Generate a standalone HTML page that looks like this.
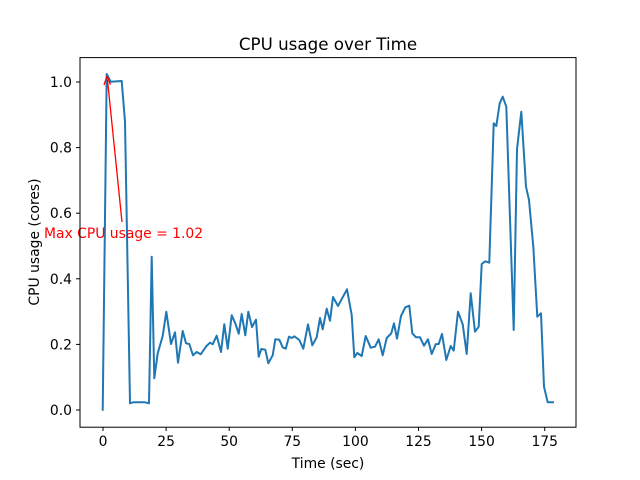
<!DOCTYPE html>
<html><head><meta charset="utf-8"><style>
html,body{margin:0;padding:0;background:#fff;}
svg{display:block;font-family:"DejaVu Sans","Liberation Sans",sans-serif;}
</style></head><body>
<svg width="640" height="480" viewBox="0 0 640 480" xmlns="http://www.w3.org/2000/svg">
<rect width="640" height="480" fill="#fff"/>
<polyline fill="none" stroke="#1f77b4" stroke-width="2" stroke-linejoin="round" points="
102.7,410.7 106.7,74 110.7,81.7 121.7,81 125,121.7 130,403.3 133.3,402.3 145,402.3 149,403.3 151.7,256.7 154.3,378.3 157.7,353.3 162.7,336 166.3,311.7 171,344 175,332.3 178,362.7 182.7,331 186,343.3 189.3,344 193,355.3 196.7,352 200.7,354.3 206.7,345.7 210,342.7 212.7,344.3 216.7,335.7 221,352 224.3,324.3 227.7,348.7 231.7,315.3 235.3,323.3 238.7,333.7 241.7,314 245.3,335.3 248.3,311.7 252,327 256,319.7 258.7,356.7 261.3,349 265.3,349.7 268.3,363.3 272.7,355.3 275.3,339.3 279.3,339.7 282.7,347.3 285.7,348.7 289,336.7 291.7,338 294.3,336.3 299.3,340 303.3,348.7 308,324.3 312.3,345.3 316.7,337.3 320,318 322.7,329.3 326.7,308.7 330,320.7 333,297 338,306 347,289.3 351.7,315 354.3,357.3 357.3,353 361.7,356 365.7,336 370.7,347.7 375,346.7 378.7,339.3 382.7,355.3 386.7,338 391.3,333.3 394,323.3 397,338.7 401,316 405.3,307.3 409.3,305.7 412.3,333.3 416,337.3 420,337.3 424,345.7 428,339.3 431.7,354 435.7,344.3 438.7,344 442,334 446.3,360 450.7,346 453.7,350.7 458,311.7 462.7,324.3 466.7,354 470.7,293.3 475,331.7 478.7,326.7 481.7,264 485.3,261.3 489.3,262.7 493.7,123.3 496.3,126 499.7,103.3 502.7,96.7 506.3,106.7 513.7,330 517,149.3 521.3,111.7 526,186.7 529,200 533.3,246.7 537.3,316.7 541,313.3 544,386.7 547.7,402.3 554,402.3"/>
<line x1="122" y1="222" x2="107.5" y2="80" stroke="red" stroke-width="1.3"/>
<path d="M107,76 L104,85 M107,76 L110.5,84.5" stroke="red" stroke-width="1.3" fill="none"/>
<text x="44" y="238" font-size="13.9" fill="red">Max CPU usage = 1.02</text>
<rect x="80" y="57.6" width="496" height="369.6" fill="none" stroke="#000" stroke-width="1"/>
<g stroke="#000" stroke-width="1">
<line x1="103" y1="427" x2="103" y2="431"/><line x1="166.1" y1="427" x2="166.1" y2="431"/><line x1="229.2" y1="427" x2="229.2" y2="431"/><line x1="292.3" y1="427" x2="292.3" y2="431"/><line x1="355.4" y1="427" x2="355.4" y2="431"/><line x1="418.5" y1="427" x2="418.5" y2="431"/><line x1="481.6" y1="427" x2="481.6" y2="431"/><line x1="544.7" y1="427" x2="544.7" y2="431"/>
<line x1="76" y1="410" x2="80" y2="410"/><line x1="76" y1="344.4" x2="80" y2="344.4"/><line x1="76" y1="278.8" x2="80" y2="278.8"/><line x1="76" y1="213.2" x2="80" y2="213.2"/><line x1="76" y1="147.6" x2="80" y2="147.6"/><line x1="76" y1="82" x2="80" y2="82"/>
</g>
<g font-size="13.9" fill="#000" text-anchor="middle">
<text x="103" y="446">0</text><text x="166.1" y="446">25</text><text x="229.2" y="446">50</text><text x="292.3" y="446">75</text><text x="355.4" y="446">100</text><text x="418.5" y="446">125</text><text x="481.6" y="446">150</text><text x="544.7" y="446">175</text>
</g>
<g font-size="13.9" fill="#000" text-anchor="end">
<text x="72" y="415">0.0</text><text x="72" y="349.4">0.2</text><text x="72" y="283.8">0.4</text><text x="72" y="218.2">0.6</text><text x="72" y="152.6">0.8</text><text x="72" y="87">1.0</text>
</g>
<text x="328" y="468" font-size="13.9" text-anchor="middle">Time (sec)</text>
<text x="0" y="0" font-size="13.9" text-anchor="middle" transform="translate(39,242) rotate(-90)">CPU usage (cores)</text>
<text x="328" y="50" font-size="16.7" text-anchor="middle">CPU usage over Time</text>
</svg>
</body></html>
